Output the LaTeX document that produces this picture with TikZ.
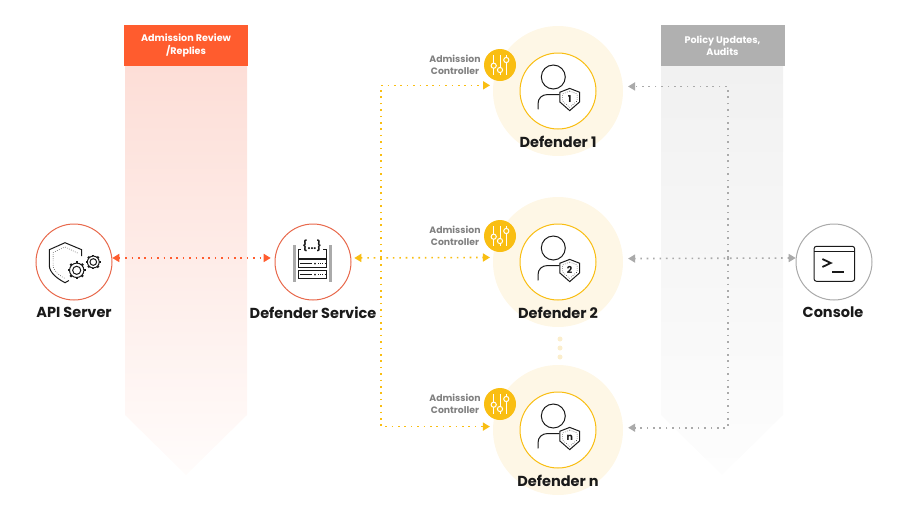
\documentclass[tikz,border=0pt]{standalone}
\usepackage{fontspec}
\setmainfont{Poppins}
\usetikzlibrary{arrows.meta}
\tikzset{
userbadge/.pic={
\draw[user_line] (-4.7,-14) circle (12);
\draw[user_line,line cap=round] (-20,18) -- (-20,13) .. controls (-20,7) and (-16,3.5) .. (-10,3.5) -- (1,3.5);
\draw[user_line,fill=white] (11.7,-2.6) -- (21.5,1.2) -- (21.5,11) -- (11.7,19.6) -- (1.9,11) -- (1.9,1.2) -- cycle;
\draw[dot_line] (11.7,0) -- (19,3) -- (19,10) -- (11.7,16.4) -- (4.4,10) -- (4.4,3) -- cycle;
\node(badge) at (11.7,8) [inner sep=0,font=\bfseries\fontsize{9.5}{9.5}\selectfont,text=def_text] {#1};
},
sliders/.pic={
\draw[slider_line] (-6.3,-10) -- (-6.3,10);
\draw[slider_line] (0,-10) -- (0,10);
\draw[slider_line] (6.3,-10) -- (6.3,10);
\draw[slider_line,fill=def_yellow] (-6.3,0.7) circle (2.6);
\draw[slider_line,fill=def_yellow] (0,5) circle (2.6);
\draw[slider_line,fill=def_yellow] (6.3,-5) circle (2.6);
},
gear/.pic={
\foreach \a in {0,45,...,315}
\draw[user_line,line width=2.2pt] (\a:#1*0.72) -- (\a:#1);
\draw[user_line,fill=white] (0,0) circle (#1*0.8);
\draw[user_line] (0,0) circle (#1*0.45);
},
serverbox/.pic={
\draw[rack_line,fill=white] (-15,-4) rectangle (13,4);
\fill[def_text] (2,0) circle (1);
\draw[dot_line] (5,0) -- (12,0);
\draw[rack_line] (-13,0) -- (-1,0);
}
}
\begin{document}
\begin{tikzpicture}[x=1pt,y=-1pt,font=\bfseries]

\definecolor{def_text}{RGB}{26,26,26}
\definecolor{def_orange}{RGB}{255,92,46}
\definecolor{def_ring}{RGB}{232,105,76}
\definecolor{def_pink}{RGB}{253,222,215}
\definecolor{def_blush}{RGB}{255,252,251}
\definecolor{def_yellow}{RGB}{249,190,18}
\definecolor{def_halo}{RGB}{254,247,230}
\definecolor{def_gap}{RGB}{251,238,205}
\definecolor{def_grey}{RGB}{176,176,176}
\definecolor{def_pale}{RGB}{241,241,241}
\definecolor{def_mist}{RGB}{253,253,253}
\definecolor{def_arrow}{RGB}{170,170,170}
\definecolor{def_label}{RGB}{128,128,128}

\tikzstyle{header_style}=[rectangle,minimum width=124,minimum height=41,inner sep=0,align=center,text=white,font=\bfseries\fontsize{9.6}{12.6}\selectfont]
\tikzstyle{ring_style}=[circle,minimum size=76,inner sep=0,fill=white,line width=1pt]
\tikzstyle{halo_style}=[circle,minimum size=130,inner sep=0,fill=def_halo]
\tikzstyle{knob_style}=[circle,minimum size=32,inner sep=0,fill=def_yellow]
\tikzstyle{name_style}=[inner sep=0,text=def_text,font=\bfseries\fontsize{14.5}{16}\selectfont]
\tikzstyle{knob_label}=[inner sep=0,align=center,text=def_label,font=\bfseries\fontsize{9.3}{12.3}\selectfont]
\tikzstyle{user_line}=[draw=def_text,line width=1pt]
\tikzstyle{rack_line}=[draw=def_text,line width=0.8pt]
\tikzstyle{dot_line}=[draw=def_text,line width=0.5pt,dash pattern=on 0.6pt off 1.6pt]
\tikzstyle{slider_line}=[draw=white,line width=1pt]
\tikzstyle{link_style}=[line width=1.6pt,dash pattern=on 1.6pt off 4.8pt,>={Triangle[length=7pt,width=8pt]}]
\tikzstyle{orange_link}=[link_style,draw=def_orange,color=def_orange]
\tikzstyle{yellow_link}=[link_style,draw=def_yellow,color=def_yellow]
\tikzstyle{grey_link}=[link_style,draw=def_arrow,color=def_arrow]

\useasboundingbox (0,0) rectangle (900,520);

\shade[top color=def_pink,bottom color=def_blush] (125,66) -- (247,66) -- (247,415) -- (186,475) -- (125,415) -- cycle;
\shade[top color=def_pale,bottom color=def_mist] (661,66) -- (783,66) -- (783,415) -- (722,475) -- (661,415) -- cycle;
\node(reviewhead) at (186,45.5) [header_style,fill=def_orange] {Admission Review\\/Replies};
\node(policyhead) at (722.5,45.5) [header_style,fill=def_grey] {Policy Updates,\\Audits};

\node(def1halo) at (558,91) [halo_style] {};
\node(def2halo) at (558,262) [halo_style] {};
\node(defnhalo) at (558,430) [halo_style] {};

\coordinate (yellowbus) at (381,258);
\coordinate (greybus) at (728,258);

\node(api) at (74,262) [ring_style,draw=def_ring] {};
\node(service) at (313,262) [ring_style,draw=def_ring] {};
\node(console) at (834,262) [ring_style,draw=def_arrow] {};
\node(def1) at (558,91) [ring_style,draw=def_yellow] {};
\node(def2) at (558,262) [ring_style,draw=def_yellow] {};
\node(defn) at (558,430) [ring_style,draw=def_yellow] {};

\draw[<->,orange_link,shorten >=4pt] (api.6) -- (service.174);
\draw[<->,yellow_link,shorten <=3pt,shorten >=3pt] (service.6) -- (def2halo.176.5);
\draw[->,yellow_link,shorten >=3pt] (yellowbus) |- (def1halo.175.6);
\draw[->,yellow_link,shorten >=3pt] (yellowbus) |- (defnhalo.177.4);
\draw[<->,grey_link,shorten >=5pt] (console.174) -- (def2halo.3.5);
\draw[->,grey_link,shorten >=5pt] (greybus) |- (def1halo.4.4);
\draw[->,grey_link,shorten >=5pt] (greybus) |- (defnhalo.2.6);

\node(knob1) at (500,65) [knob_style] {};
\node(knob2) at (500,236) [knob_style] {};
\node(knobn) at (500,404) [knob_style] {};
\pic at (knob1) {sliders};
\pic at (knob2) {sliders};
\pic at (knobn) {sliders};

\node(knob1text) at (455,65) [knob_label] {Admission\\Controller};
\node(knob2text) at (455,236) [knob_label] {Admission\\Controller};
\node(knobntext) at (455,404) [knob_label] {Admission\\Controller};

\pic(user1) at (def1) {userbadge=1};
\pic(user2) at (def2) {userbadge=2};
\pic(usern) at (defn) {userbadge=n};

\node(gap1) at (560,339) [circle,minimum size=5,inner sep=0,fill=def_gap] {};
\node(gap2) at (560,348) [circle,minimum size=5,inner sep=0,fill=def_gap] {};
\node(gap3) at (560,357) [circle,minimum size=5,inner sep=0,fill=def_gap] {};

\begin{scope}[shift={(api.center)}]
\draw[user_line] (7.7,-6) -- (7.7,-12.3) -- (-9,-19.3) -- (-24.7,-12.3) -- (-24.7,3.3) .. controls (-24.7,11) and (-16,17) .. (-9,20.7) -- (-5,18.5);
\draw[dot_line] (3.5,-9) -- (-9,-15) -- (-21,-9.5) -- (-21,3) .. controls (-21,9) and (-14,14) .. (-9,16.5);
\pic at (2.7,8.3) {gear=9};
\pic at (19.3,0) {gear=7.4};
\end{scope}

\begin{scope}[shift={(service.center)}]
\fill[def_arrow] (-20,-16.7) rectangle (-17,20);
\fill[def_arrow] (15.5,-16.7) rectangle (18.5,20);
\draw[rack_line,fill=white] (-15,-13) rectangle (13,-4);
\pic at (0,1.7) {serverbox};
\pic at (0,12.5) {serverbox};
\node(braces) at (-1,-16.5) [inner sep=1,fill=white,text=def_text,font=\bfseries\fontsize{10.5}{11}\selectfont] {\{...\}};
\end{scope}

\begin{scope}[shift={(console.center)}]
\draw[user_line,line width=1pt,rounded corners=2.5] (-20,-15.7) rectangle (20.7,19.3);
\draw[user_line] (-20,-10.3) -- (20.7,-10.3);
\draw[user_line,line width=1.8pt] (-11.6,-3) -- (-3.3,1) -- (-11.6,5);
\draw[user_line,line width=1.8pt] (-1.7,9.7) -- (10,9.7);
\end{scope}

\node(apitext) at (74,312.5) [name_style] {API Server};
\node(servicetext) at (313,312.5) [name_style] {Defender Service};
\node(consoletext) at (833,312.5) [name_style] {Console};
\node(def1text) at (558,141.5) [name_style] {Defender 1};
\node(def2text) at (558,312.5) [name_style] {Defender 2};
\node(defntext) at (558,481) [name_style] {Defender n};

\end{tikzpicture}
\end{document}
